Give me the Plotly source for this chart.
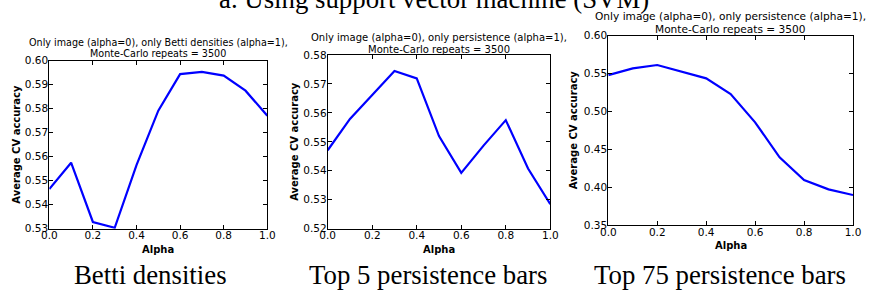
import plotly.graph_objects as go

W, H = 873, 293

alpha = [0.0, 0.1, 0.2, 0.3, 0.4, 0.5, 0.6, 0.7, 0.8, 0.9, 1.0]
betti_acc = [0.5465, 0.5575, 0.5328, 0.5304, 0.5565, 0.5792, 0.5944, 0.5953, 0.5938, 0.5875, 0.5771]
top5_acc = [0.5471, 0.5579, 0.5662, 0.5745, 0.5719, 0.5520, 0.5393, 0.5487, 0.5575, 0.5408, 0.5285]
top75_acc = [0.5480, 0.5569, 0.5613, 0.5525, 0.5437, 0.5230, 0.4856, 0.4393, 0.4094, 0.3971, 0.3896]

main_title = "a. Using support vector machine (SVM)"
captions = ["Betti densities", "Top 5 persistence bars", "Top 75 persistence bars"]
sub_titles_line1 = [
    "Only image (alpha=0), only Betti densities (alpha=1),",
    "Only image (alpha=0), only persistence (alpha=1),",
    "Only image (alpha=0), only persistence (alpha=1),",
]
sub_title_line2 = "Monte-Carlo repeats = 3500"
y_ranges = [(0.53, 0.60), (0.52, 0.58), (0.35, 0.60)]
y_dticks = [0.01, 0.01, 0.05]
x_label = "Alpha"
y_label = "Average CV accuracy"

# pixel boxes of the plot areas: (left, right, top, bottom)
boxes = [(49.3, 267.3, 60.7, 228.7), (327.7, 550.3, 55.0, 228.7), (608.3, 853.0, 35.7, 225.0)]
title_sizes = [9.6, 10.0, 10.6]
title_line_y = [(42.5, 53.8), (37.5, 49.3), (15.8, 28.5)]
ytitle_x = [17, 295, 573]
caption_x = [150, 428, 720]

def px(x):
    return x / W

def py(y):
    return 1 - y / H

fig = go.Figure()
series = [betti_acc, top5_acc, top75_acc]
annotations = []
for i, (vals, box) in enumerate(zip(series, boxes)):
    l, r, t, b = box
    xa = "x" if i == 0 else f"x{i+1}"
    ya = "y" if i == 0 else f"y{i+1}"
    fig.add_trace(go.Scatter(x=alpha, y=vals, mode="lines",
                             line=dict(color="#0000ff", width=2.2),
                             xaxis=xa, yaxis=ya, showlegend=False, hoverinfo="skip"))
    axis_common = dict(showline=True, linecolor="black", linewidth=1, mirror="ticks",
                       ticks="inside", ticklen=4, tickcolor="black", showgrid=False,
                       zeroline=False, tickfont=dict(family="DejaVu Sans", size=10.5, color="black"))
    fig.layout[("xaxis" if i == 0 else f"xaxis{i+1}")] = dict(
        domain=[px(l), px(r)], range=[0, 1], dtick=0.2, tick0=0, tickformat=".1f",
        anchor=ya, ticklabelstandoff=-3, **axis_common)
    fig.layout[("yaxis" if i == 0 else f"yaxis{i+1}")] = dict(
        domain=[py(b), py(t)], range=list(y_ranges[i]), dtick=y_dticks[i], tick0=0,
        tickformat=".2f", anchor=xa, ticklabelstandoff=-2, **axis_common)
    for txt, yy in zip([sub_titles_line1[i], sub_title_line2], title_line_y[i]):
        annotations.append(dict(x=px((l + r) / 2), y=py(yy), xref="paper", yref="paper",
                                text=txt, showarrow=False, xanchor="center", yanchor="middle",
                                font=dict(family="DejaVu Sans", size=title_sizes[i], color="black")))
    annotations.append(dict(x=px((l + r) / 2), y=py(b + 21), xref="paper", yref="paper",
                            text="<b>" + x_label + "</b>", showarrow=False, xanchor="center", yanchor="middle",
                            font=dict(family="DejaVu Sans", size=10, color="black")))
    annotations.append(dict(x=px(ytitle_x[i]), y=py((t + b) / 2), xref="paper", yref="paper",
                            text="<b>" + y_label + "</b>", showarrow=False, textangle=-90,
                            xanchor="center", yanchor="middle",
                            font=dict(family="DejaVu Sans", size=10, color="black")))
    annotations.append(dict(x=px(caption_x[i]), y=py(275), xref="paper", yref="paper",
                            text=captions[i], showarrow=False, xanchor="center", yanchor="middle",
                            font=dict(family="Liberation Serif", size=26.8, color="black")))

annotations.append(dict(x=px(434), y=py(-1), xref="paper", yref="paper", text=main_title,
                        showarrow=False, xanchor="center", yanchor="middle",
                        font=dict(family="Liberation Serif", size=26.8, color="black")))

fig.update_layout(width=W, height=H,
                  margin=dict(l=0, r=0, t=0, b=0, pad=0, autoexpand=False),
                  paper_bgcolor="white", plot_bgcolor="white", annotations=annotations,
                  hovermode=False)
fig.write_html("out.html", config={"displayModeBar": False, "staticPlot": True},
               post_script="document.body.style.margin='0';document.body.style.padding='0';")
